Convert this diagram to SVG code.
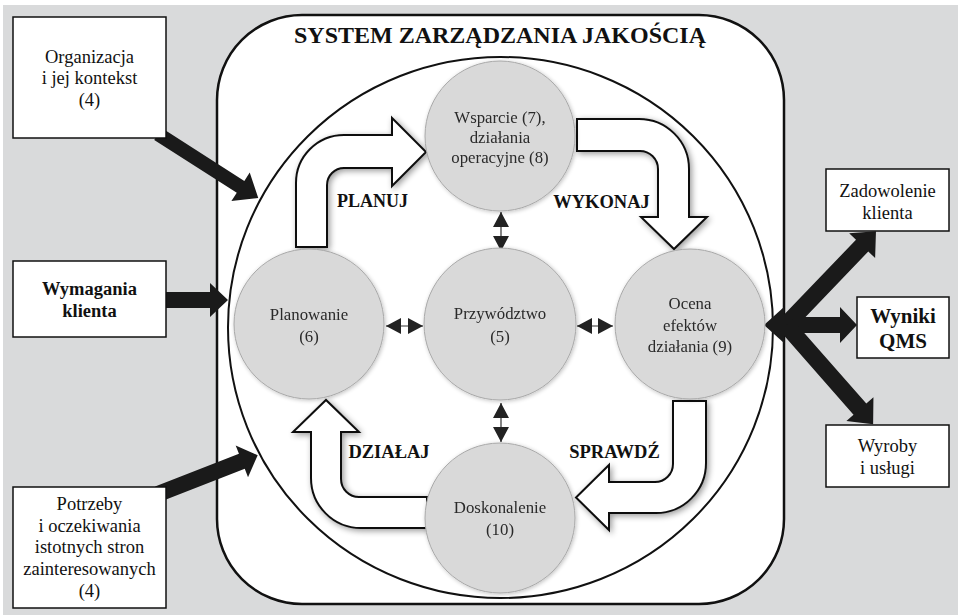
<svg xmlns="http://www.w3.org/2000/svg" width="958" height="615" viewBox="0 0 958 615">
  <defs>
    <style>
      .t { font-family: "Liberation Serif", "Times New Roman", serif; fill: #111; text-anchor: middle; }
      .b { font-weight: bold; }
      .box { fill: #fff; stroke: #111; stroke-width: 1.5; }
      .circ { fill: #d9d9d9; stroke: #a9a9a9; stroke-width: 1; }
      .ct { font-family: "Liberation Serif", "Times New Roman", serif; fill: #2a2a2a; text-anchor: middle; font-size: 16.8px; }
      .blk { fill: #1a1a1a; }
      .flow { fill: #fff; stroke: #111; stroke-width: 2; stroke-linejoin: miter; }
      .dbl { fill: #222; }
      .dl { stroke: #333; stroke-width: 1.2; }
    </style>
    <filter id="glow" x="-25%" y="-25%" width="150%" height="150%">
      <feGaussianBlur in="SourceAlpha" stdDeviation="3"/>
      <feOffset dx="2" dy="2"/>
      <feComponentTransfer><feFuncA type="linear" slope="0.4"/></feComponentTransfer>
      <feMerge><feMergeNode/><feMergeNode in="SourceGraphic"/></feMerge>
    </filter>
    <filter id="soft" x="-10%" y="-10%" width="120%" height="120%">
      <feGaussianBlur in="SourceAlpha" stdDeviation="2"/>
      <feOffset dx="1" dy="1"/>
      <feComponentTransfer><feFuncA type="linear" slope="0.25"/></feComponentTransfer>
      <feMerge><feMergeNode/><feMergeNode in="SourceGraphic"/></feMerge>
    </filter>
  </defs>

  <!-- background -->
  <rect x="0" y="0" width="958" height="615" fill="#fff"/>
  <rect x="3" y="5" width="955" height="610" fill="#d9dadb"/>

  <!-- system frame -->
  <g id="system">
    <rect x="217" y="15" width="567" height="589" rx="85" ry="85" fill="#fff" stroke="#111" stroke-width="2.5"/>
    <text class="t b" x="500" y="43" font-size="24">SYSTEM ZARZĄDZANIA JAKOŚCIĄ</text>
    <ellipse cx="500.5" cy="327.5" rx="272.5" ry="270.5" fill="#fff" stroke="#111" stroke-width="2"/>
  </g>

  <!-- connectors -->
  <g id="connectors">
    <!-- inputs -->
    <path class="blk" transform="translate(158,134) rotate(32.6)" d="M0,-7 H98 V-17 L119,0 L98,17 V7 H0 Z"/>
    <path class="blk" transform="translate(160,300)" d="M0,-8 H50 V-17 L68,0 L50,17 V8 H0 Z"/>
    <path class="blk" transform="translate(158,494) rotate(-21.3)" d="M0,-8 H90 V-17 L107,0 L90,17 V8 H0 Z"/>
    <!-- outputs -->
    <polygon class="blk" points="764,325 784,307 784,343"/>
    <path class="blk" transform="translate(782,325)" d="M0,-8 H58 V-18 L75,0 L58,18 V8 H0 Z"/>
    <path class="blk" transform="translate(786,325) rotate(-46.2)" d="M0,-8.5 H110 V-18 L130,0 L110,18 V8.5 H0 Z"/>
    <path class="blk" transform="translate(786,325) rotate(48.7)" d="M0,-8.5 H112 V-18 L132,0 L112,18 V8.5 H0 Z"/>

    <!-- PDCA flow arrows -->
    <path class="flow" filter="url(#glow)" d="M296,247 V183 A48,48 0 0 1 344,135 H392 V118 L426,152 L392,186 V168 H344 A17,17 0 0 0 327,185 V247 Z"/>
    <path class="flow" filter="url(#glow)" d="M577,119 H639 A50,50 0 0 1 689,169 V217 H707 L674,249 L641,217 H658 V169 A18,18 0 0 0 640,151 H577 Z"/>
    <path class="flow" filter="url(#glow)" d="M673,401 H706 V463 A50,50 0 0 1 656,513 H609 V530 L576,497.5 L609,465 V482 H655 A18,18 0 0 0 673,464 Z"/>
    <path class="flow" filter="url(#glow)" d="M427,528 H361 A50,50 0 0 1 311,478 V432 H293 L326,400 L359,432 H341 V479 A18,18 0 0 0 359,497 H427 Z"/>

    <!-- links between processes -->
    <line class="dl" x1="386" y1="326" x2="423" y2="326"/>
    <polygon class="dbl" points="386,326 401,318 401,334"/>
    <polygon class="dbl" points="423,326 408,318 408,334"/>
    <line class="dl" x1="577" y1="326" x2="613" y2="326"/>
    <polygon class="dbl" points="577,326 592,318 592,334"/>
    <polygon class="dbl" points="613,326 598,318 598,334"/>
    <line class="dl" x1="501" y1="212" x2="501" y2="251"/>
    <polygon class="dbl" points="501,212 493,227 509,227"/>
    <polygon class="dbl" points="501,251 493,236 509,236"/>
    <line class="dl" x1="501" y1="403" x2="501" y2="442"/>
    <polygon class="dbl" points="501,403 493,418 509,418"/>
    <polygon class="dbl" points="501,442 493,427 509,427"/>
  </g>

  <!-- flow labels -->
  <g id="labels">
    <text class="t b" x="372.5" y="207" font-size="18">PLANUJ</text>
    <text class="t b" x="601.5" y="208" font-size="18.5">WYKONAJ</text>
    <text class="t b" x="389" y="458" font-size="18.5">DZIAŁAJ</text>
    <text class="t b" x="614.5" y="458" font-size="18.5">SPRAWDŹ</text>
  </g>

  <!-- process nodes -->
  <g id="wsparcie" filter="url(#soft)">
    <circle class="circ" cx="500" cy="136" r="75"/>
    <text class="ct" x="500" y="123">Wsparcie (7),</text>
    <text class="ct" x="500" y="143">działania</text>
    <text class="ct" x="500" y="163">operacyjne (8)</text>
  </g>
  <g id="planowanie" filter="url(#soft)">
    <circle class="circ" cx="309" cy="324" r="75"/>
    <text class="ct" x="309" y="320" font-size="17">Planowanie</text>
    <text class="ct" x="309" y="342" font-size="17">(6)</text>
  </g>
  <g id="przywodztwo" filter="url(#soft)">
    <circle class="circ" cx="500" cy="324" r="76"/>
    <text class="ct" x="500" y="319">Przywództwo</text>
    <text class="ct" x="500" y="342">(5)</text>
  </g>
  <g id="ocena" filter="url(#soft)">
    <circle class="circ" cx="690" cy="324" r="75"/>
    <text class="ct" x="690" y="309" font-size="18.3">Ocena</text>
    <text class="ct" x="690" y="331" font-size="18.3">efektów</text>
    <text class="ct" x="690" y="352" font-size="18.3">działania (9)</text>
  </g>
  <g id="doskonalenie" filter="url(#soft)">
    <circle class="circ" cx="500" cy="518" r="75"/>
    <text class="ct" x="500" y="513">Doskonalenie</text>
    <text class="ct" x="500" y="535">(10)</text>
  </g>

  <!-- input boxes -->
  <g id="organizacja">
    <rect class="box" x="13" y="17" width="153" height="121"/>
    <text class="t" x="89.5" y="63" font-size="18.5">Organizacja</text>
    <text class="t" x="89.5" y="84" font-size="18.5">i jej kontekst</text>
    <text class="t" x="89.5" y="106" font-size="18.5">(4)</text>
  </g>
  <g id="wymagania">
    <rect class="box" x="13" y="261" width="153" height="76"/>
    <text class="t b" x="89.5" y="295" font-size="18.5">Wymagania</text>
    <text class="t b" x="89.5" y="317" font-size="18.5">klienta</text>
  </g>
  <g id="potrzeby">
    <rect class="box" x="13" y="487" width="153" height="121"/>
    <text class="t" x="89.5" y="510" font-size="18.5">Potrzeby</text>
    <text class="t" x="89.5" y="532" font-size="18.5">i oczekiwania</text>
    <text class="t" x="89.5" y="553" font-size="18.5">istotnych stron</text>
    <text class="t" x="89.5" y="575" font-size="18.5">zainteresowanych</text>
    <text class="t" x="89.5" y="597" font-size="18.5">(4)</text>
  </g>

  <!-- output boxes -->
  <g id="zadowolenie">
    <rect class="box" x="826" y="169" width="123" height="62"/>
    <text class="t" x="887.5" y="197" font-size="18.5">Zadowolenie</text>
    <text class="t" x="887.5" y="219" font-size="18.5">klienta</text>
  </g>
  <g id="wyniki">
    <rect class="box" x="857" y="297" width="92" height="61"/>
    <text class="t b" x="903" y="323" font-size="21">Wyniki</text>
    <text class="t b" x="903" y="348" font-size="21">QMS</text>
  </g>
  <g id="wyroby">
    <rect class="box" x="826" y="425" width="123" height="62"/>
    <text class="t" x="887.5" y="452" font-size="18.5">Wyroby</text>
    <text class="t" x="887.5" y="474" font-size="18.5">i usługi</text>
  </g>
</svg>
